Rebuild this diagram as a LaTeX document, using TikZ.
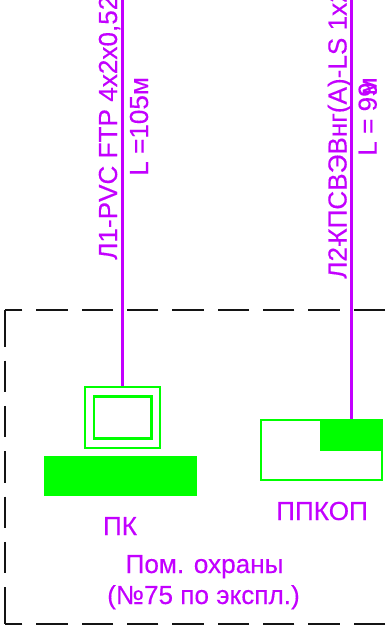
\documentclass[tikz,border=0pt]{standalone}
\usepackage{fontspec}
\setmainfont{Liberation Sans}[FakeBold=0.25]
\definecolor{violetline}{RGB}{195,0,255}
\definecolor{greenline}{RGB}{0,255,0}
\definecolor{roomline}{RGB}{20,20,20}
\tikzset{
 x=0.75pt,y=-0.75pt,
 cable/.style={draw=violetline,line width=2.2pt},
 equip/.style={draw=greenline,line width=2pt,inner sep=0pt},
 equipfill/.style={fill=greenline,draw=none,inner sep=0pt},
 roomside/.style={draw=roomline,line width=1.9pt,dash pattern=on 23.6pt off 10.4pt},
 roomcorner/.style={draw=roomline,line width=1.9pt},
 lbl/.style={text=violetline,font=\fontsize{19.6pt}{24pt}\selectfont,inner sep=0pt,anchor=base},
 vlbl/.style={lbl,rotate=90,anchor=base west},
}
\begin{document}
\begin{tikzpicture}
\useasboundingbox (0,0) rectangle (385,630);
\clip (0,0) rectangle (385,630);
\fill[white] (0,0) rectangle (385,630);
\coordinate (tr) at (385,310);
\coordinate (tl) at (5,310);
\coordinate (bl) at (5,624);
\coordinate (br) at (385,624);
\draw[roomside] (tr) -- (tl);
\draw[roomside] (br) -- (bl);
\draw[roomside] (5,315.2) -- (5,619.5);
\draw[roomcorner] (tl) -- (5,316);
\draw[roomcorner] (5,619) -- (bl);
\node[equip,draw,minimum width=56.25pt,minimum height=45.75pt] (mon) at (122.5,417.5) {};
\node[equip,draw,minimum width=43pt,minimum height=31.4pt] (scr) at (122.7,417.4) {};
\node[equipfill,minimum width=114.75pt,minimum height=30pt] (kbd) at (120.5,476) {};
\node[equip,draw,minimum width=90.75pt,minimum height=45pt] (ppk) at (321.5,450) {};
\node[equipfill,minimum width=47pt,minimum height=24pt] (ppkf) at (351.3,435) {};
\coordinate (t1) at (122.7,0);
\coordinate (t2) at (351.2,0);
\draw[cable] (t1) -- (t1|-mon.north);
\draw[cable] (t2) -- (t2|-ppkf.north);
\node[vlbl] (l1) at (117,260) {Л1-PVC FTP 4х2х0,52};
\node[vlbl] (l1b) at (148,176) {L =105м};
\node[vlbl] (l2) at (346.5,279) {Л2-\kern-4pt КПСВЭВнг(А)-LS 1х2};
\node[vlbl] (l2b) at (376.7,156) {L = 99};
\node[lbl,rotate=90,anchor=base east] (l2c) at (376.7,77) {м};
\node[lbl] (pk) at (120,535) {ПК};
\node[lbl] (ppkop) at (322,520) {ППКОП};
\node[lbl] (room1) at (204.5,573) {Пом. охраны};
\node[lbl] (room2) at (203.5,604) {(№75 по экспл.)};
\end{tikzpicture}
\end{document}
